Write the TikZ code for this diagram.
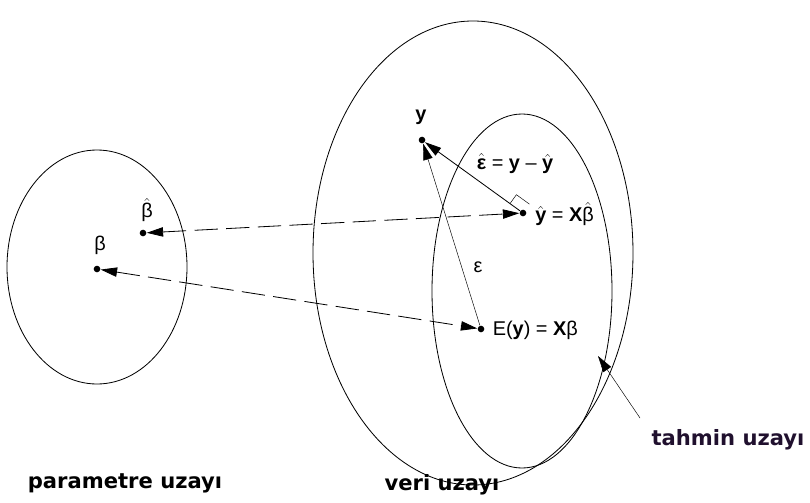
\documentclass[tikz,border=0pt]{standalone}
\usepackage{amsmath}
\usepackage{fontspec}
\setmainfont{Liberation Sans}
\newfontfamily\labelfont{DejaVu Sans}
\usetikzlibrary{arrows.meta,calc}
\definecolor{labelpurple}{HTML}{20102E}
\newcommand{\bvec}[1]{\textbf{#1}}
\newcommand{\hatof}[1]{\ensuremath{\hat{\text{#1}}}}

\begin{document}
\begin{tikzpicture}[x=0.03cm, y=-0.03cm, line width=0.7pt,
    every node/.style={circle, fill, inner sep=2pt},
    lbl/.style={draw=none, fill=none, inner sep=1pt, font=\fontsize{17}{19}\selectfont},
    space/.style={draw=none, fill=none, font=\labelfont\bfseries\fontsize{18}{20}\selectfont},
    tip/.style={-{Triangle[length=14pt, width=8pt]}},
    both/.style={{Triangle[length=14pt, width=8pt]}-{Triangle[length=14pt, width=8pt]}},
    longdash/.style={dash pattern=on 7mm off 2.5mm}]
		\useasboundingbox (0,0) rectangle (810,502);

		% spaces
		\draw (97,267) ellipse [x radius=90, y radius=117];
		\draw (473,253) ellipse [x radius=160, y radius=232];
		\draw (522,291) ellipse [x radius=90, y radius=177];

		% points
		\node (bh) at (143, 233) {};
		\node (b) at (97, 269) {};
		\node (y) at (422, 140) {};
		\node (yh) at (523, 213) {};
		\node (ey) at (481, 329) {};
		\coordinate (tail) at (640, 418);
		\coordinate (edge) at (598, 356);

		% arrows
		\draw[both, longdash] (bh) -- (yh);
		\draw[both, longdash] (b) -- (ey);
		\draw[tip] (yh) -- (y);
		\draw[tip, thin] (ey) -- (y);
		\draw[tip, thin] (tail) -- (edge);
		% right angle at y-hat
		\draw[thin] ($(yh)+(-13,-9.4)$) -- ($(yh)+(-6.6,-18.3)$) -- ($(yh)+(6.4,-8.9)$);

		% labels
		\node[lbl] at (421, 117) {\bvec{y}};
		\node[lbl] at (515, 164) {\hatof{\bvec{ε}} = \bvec{y} -- \hatof{\bvec{y}}};
		\node[lbl, anchor=west] at (531, 214) {\hatof{\bvec{y}} = \bvec{X}\hatof{β}};
		\node[lbl] at (478, 267) {ε};
		\node[lbl, anchor=west] at (490, 330) {E(\bvec{y}) = \bvec{X}β};
		\node[lbl] at (147, 210) {\hatof{β}};
		\node[lbl] at (100, 245) {β};

		\node[space] at (125, 483) {parametre uzayı};
		\node[space] at (442, 485) {veri uzayı};
		\node[space, text=labelpurple] at (728, 440) {tahmin uzayı};
	\end{tikzpicture}
\end{document}
